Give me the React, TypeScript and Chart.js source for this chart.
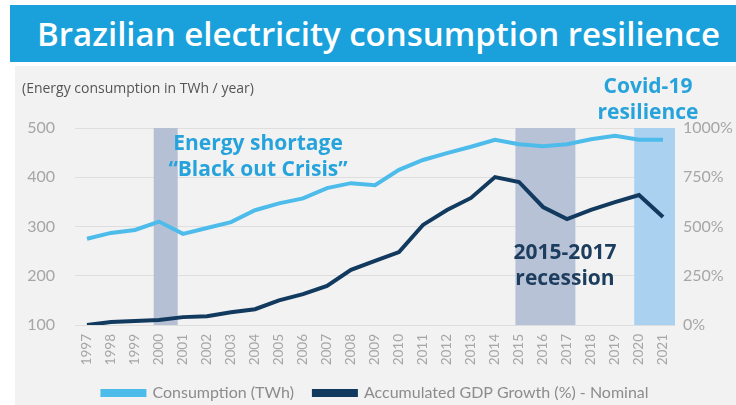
import React, { useEffect, useRef } from "react";
import { Chart, registerables } from "chart.js";

Chart.register(...registerables);

const years = [
  "1997", "1998", "1999", "2000", "2001", "2002", "2003", "2004", "2005",
  "2006", "2007", "2008", "2009", "2010", "2011", "2012", "2013", "2014",
  "2015", "2016", "2017", "2018", "2019", "2020", "2021",
];
const consumptionTWh = [
  275, 287, 293, 310, 285, 297, 309, 333, 347, 357, 378, 388, 384, 415, 435,
  449, 462, 476, 467, 463, 467, 477, 484, 476, 476,
];
const gdpGrowthPct = [
  0, 15, 20, 25, 40, 45, 65, 80, 125, 157, 198, 280, 325, 370, 508, 584, 645,
  751, 726, 599, 538, 584, 624, 660, 548,
];
const leftTicks = [100, 200, 300, 400, 500];
const rightTicks = [0, 250, 500, 750, 1000];
const bandFrom = [1999.78, 2014.85, 2019.8];
const bandTo = [2000.78, 2017.35, 2021.5];
const bandColors = ["#b6c0d4", "#b8c2d6", "#abd1f0"];

const FONT = "Lato, 'Open Sans', sans-serif";
const FONT2 = "'Open Sans', Lato, sans-serif";

const bandsPlugin = {
  id: "bands",
  beforeDatasetsDraw(chart: any) {
    const { ctx, chartArea, scales } = chart;
    const x = scales.x;
    const first = Number(years[0]);
    ctx.save();
    for (let i = 0; i < bandFrom.length; i++) {
      const x0 = x.getPixelForValue(bandFrom[i] - first);
      const x1 = Math.min(x.getPixelForValue(bandTo[i] - first), chartArea.right);
      ctx.fillStyle = bandColors[i];
      ctx.fillRect(x0, chartArea.top, x1 - x0, chartArea.bottom - chartArea.top);
    }
    ctx.restore();
  },
};

function ChartView() {
  const ref = useRef<HTMLCanvasElement | null>(null);
  useEffect(() => {
    if (!ref.current) return;
    const chart = new Chart(ref.current, {
      type: "line",
      data: {
        labels: years,
        datasets: [
          {
            label: "Consumption (TWh)",
            data: consumptionTWh,
            borderColor: "#4dbceb",
            backgroundColor: "#4dbceb",
            borderWidth: 4,
            pointRadius: 0,
            tension: 0,
            yAxisID: "y",
          },
          {
            label: "Accumulated GDP Growth (%) - Nominal",
            data: gdpGrowthPct,
            borderColor: "#123a5e",
            backgroundColor: "#123a5e",
            borderWidth: 4,
            pointRadius: 0,
            tension: 0,
            yAxisID: "y1",
          },
        ],
      },
      options: {
        responsive: false,
        animation: false,
        devicePixelRatio: 1,
        layout: { padding: { left: 0, right: 0, top: 62, bottom: 0 } },
        plugins: {
          legend: {
            position: "bottom",
            labels: {
              boxWidth: 42,
              boxHeight: 4,
              color: "#8c8c8c",
              font: { family: FONT, size: 16 },
              padding: 20,
            },
          },
          tooltip: { enabled: false },
        },
        scales: {
          x: {
            offset: true,
            afterFit: (s: any) => { s.height = 40; },
            grid: { display: false, drawTicks: false },
            border: { display: false },
            ticks: {
              minRotation: 90,
              maxRotation: 90,
              autoSkip: false,
              padding: 9,
              color: "#a6a6a6",
              font: { family: FONT, size: 13.5 },
            },
          },
          y: {
            position: "left",
            min: 100,
            max: 500,
            afterFit: (s: any) => { s.width = 60; },
            afterBuildTicks: (s: any) => { s.ticks = leftTicks.map((v) => ({ value: v })); },
            grid: { color: "#dedede", lineWidth: 1, drawTicks: false },
            border: { display: false },
            ticks: {
              padding: 20,
              color: "#a6a6a6",
              font: { family: FONT, size: 16 },
            },
          },
          y1: {
            position: "right",
            min: 0,
            max: 1000,
            afterFit: (s: any) => { s.width = 61; },
            afterBuildTicks: (s: any) => { s.ticks = rightTicks.map((v) => ({ value: v })); },
            grid: { display: false, drawTicks: false },
            border: { display: false },
            ticks: {
              padding: 8,
              color: "#a6a6a6",
              font: { family: FONT, size: 16 },
              callback: (v: any) => v + "%",
            },
          },
        },
      },
      plugins: [bandsPlugin],
    });
    return () => chart.destroy();
  }, []);
  return <canvas ref={ref} width={721} height={345} style={{ width: 721, height: 345, display: "block" }} />;
}

const annoStyle = (color: string): React.CSSProperties => ({
  position: "absolute",
  fontFamily: FONT2,
  fontWeight: 700,
  fontSize: 21,
  lineHeight: "26px",
  color,
  textAlign: "center",
  whiteSpace: "nowrap",
  transform: "translateX(-50%)",
});

export default function App() {
  return (
    <div style={{ position: "fixed", left: 0, top: 0, width: 736, height: 405, background: "#ffffff", overflow: "hidden" }}>
      <div
        style={{
          position: "absolute", left: 10, top: 5, width: 726, height: 57,
          background: "#1aa1db", color: "#ffffff", fontFamily: FONT2, fontWeight: 600,
          fontSize: 33, lineHeight: "57px", paddingLeft: 27, boxSizing: "border-box", whiteSpace: "nowrap",
        }}
      >
        Brazilian electricity consumption resilience
      </div>
      <div style={{ position: "absolute", left: 15, top: 66, width: 721, height: 339, background: "#f2f2f2", overflow: "hidden" }}>
        <ChartView />
      </div>
      <div style={{ position: "absolute", left: 22, top: 78, fontFamily: FONT2, fontSize: 14, color: "#555555", whiteSpace: "nowrap" }}>
        (Energy consumption in TWh / year)
      </div>
      <div style={{ ...annoStyle("#27a3dc"), left: 258, top: 129 }}>
        Energy shortage<br />“Black out Crisis”
      </div>
      <div style={{ ...annoStyle("#1d3d5e"), left: 565, top: 238 }}>
        2015-2017<br />recession
      </div>
      <div style={{ ...annoStyle("#27a3dc"), left: 648, top: 72 }}>
        Covid-19<br />resilience
      </div>
    </div>
  );
}
